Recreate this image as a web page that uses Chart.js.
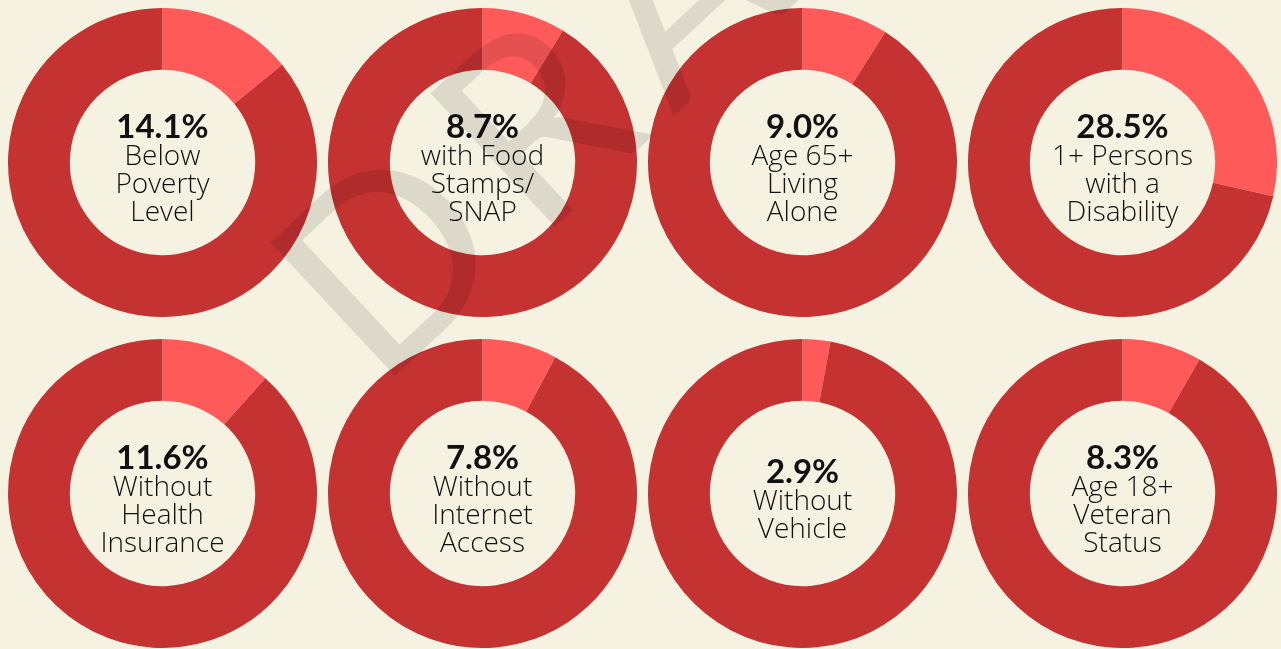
<!DOCTYPE html>
<html>
<head>
<meta charset="utf-8">
<script src="https://cdn.jsdelivr.net/npm/chart.js@4"></script>
<style>
    html, body {
        margin: 0;
        padding: 0;
        width: 1281px;
        height: 649px;
        overflow: hidden;
        background: #f5f2e1;
        font-family: Lato, "Open Sans", sans-serif;
    }
    .cell {
        position: absolute;
        width: 309px;
        height: 309px;
    }
    .cell canvas {
        position: absolute;
        left: 0;
        top: 0;
    }
    .center {
        position: absolute;
        left: 0;
        top: 0;
        width: 309px;
        height: 309px;
        box-sizing: border-box;
        padding-top: 9px;
        display: flex;
        flex-direction: column;
        justify-content: center;
        align-items: center;
        text-align: center;
        color: #111;
    }
    .pct {
        font-family: Lato, sans-serif;
        font-size: 33px;
        font-weight: 700;
        line-height: 29px;
    }
    .lbl {
        font-family: "Open Sans", Lato, sans-serif;
        font-size: 28px;
        font-weight: 300;
        line-height: 28px;
        white-space: nowrap;
    }
    #watermark {
        position: absolute;
        left: 0;
        top: 0;
        pointer-events: none;
    }
</style>
</head>
<body>
<div id="grid"></div>
<svg id="watermark" width="1281" height="649">
    <text x="378" y="392" transform="rotate(-43 378 392)" font-family="Lato, 'Open Sans', sans-serif"
          font-size="255" font-weight="400" letter-spacing="25" fill="rgba(0,0,0,0.1)">DRAFT</text>
</svg>

<script>
// Data
const percents = [14.1, 8.7, 9.0, 28.5, 11.6, 7.8, 2.9, 8.3];
const labelLines = [
    ['Below', 'Poverty', 'Level'],
    ['with Food', 'Stamps/', 'SNAP'],
    ['Age 65+', 'Living', 'Alone'],
    ['1+ Persons', 'with a', 'Disability'],
    ['Without', 'Health', 'Insurance'],
    ['Without', 'Internet', 'Access'],
    ['Without', 'Vehicle'],
    ['Age 18+', 'Veteran', 'Status']
];
const sliceLabels = ['Share', 'Rest'];

const lightRed = '#ff5a5a';
const darkRed = '#c53232';

// Cell positions (left/top of each 309px square)
const colLefts = [8, 328, 648, 968];
const rowTops = [8, 339];

// Build one doughnut
function createDonut(index) {
    const cell = document.createElement('div');
    cell.className = 'cell';
    cell.style.left = colLefts[index % 4] + 'px';
    cell.style.top = rowTops[Math.floor(index / 4)] + 'px';

    const canvas = document.createElement('canvas');
    canvas.width = 309;
    canvas.height = 309;
    cell.appendChild(canvas);

    const center = document.createElement('div');
    center.className = 'center';
    let html = `<div class="pct">${percents[index].toFixed(1)}%</div>`;
    labelLines[index].forEach(line => {
        html += `<div class="lbl">${line}</div>`;
    });
    center.innerHTML = html;
    cell.appendChild(center);

    document.getElementById('grid').appendChild(cell);

    new Chart(canvas.getContext('2d'), {
        type: 'doughnut',
        data: {
            labels: sliceLabels,
            datasets: [{
                data: [percents[index], 100 - percents[index]],
                backgroundColor: [lightRed, darkRed],
                borderWidth: 0
            }]
        },
        options: {
            responsive: false,
            animation: false,
            cutout: '60%',
            layout: { padding: 0 },
            plugins: {
                legend: { display: false },
                tooltip: { enabled: false }
            }
        }
    });
}

document.addEventListener('DOMContentLoaded', function() {
    percents.forEach((p, i) => createDonut(i));
});
</script>
</body>
</html>
